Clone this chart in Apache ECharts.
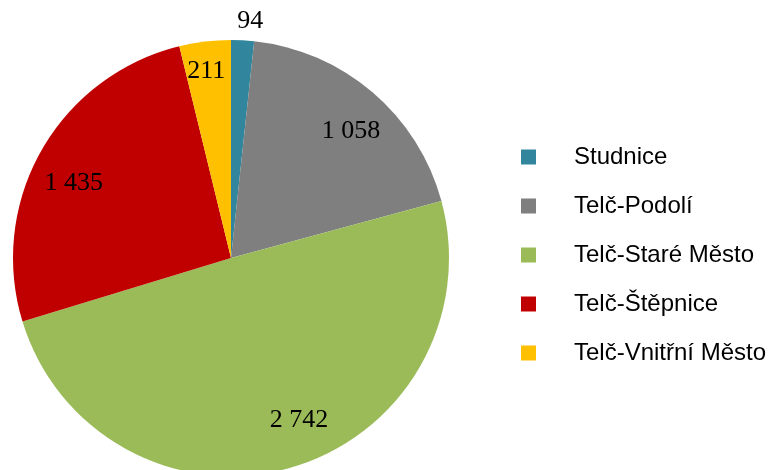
<!DOCTYPE html>
<html>
<head>
<meta charset="utf-8">
<script src="https://cdn.jsdelivr.net/npm/echarts@6/dist/echarts.min.js"></script>
<style>
  html, body { margin: 0; padding: 0; background: #fff; }
  #chart { width: 776px; height: 470px; }
</style>
</head>
<body>
<div id="chart"></div>
<script>
  // data
  var names = ['Studnice', 'Telč-Podolí', 'Telč-Staré Město', 'Telč-Štěpnice', 'Telč-Vnitřní Město'];
  var values = [94, 1058, 2742, 1435, 211];
  var colors = ['#31859C', '#7F7F7F', '#9BBB59', '#C00000', '#FFC000'];

  function fmt(v) {
    return String(v).replace(/\B(?=(\d{3})+(?!\d))/g, ' ');
  }

  var pieData = names.map(function (n, i) {
    return { name: n, value: values[i], itemStyle: { color: colors[i] } };
  });

  // nudge labels to where the original puts them
  var labelOffsets = [[10, -63], [7, 6], [20, -5], [-6, 11], [-4, -14]];
  var labelData = names.map(function (n, i) {
    return { name: n, value: values[i], label: { offset: labelOffsets[i] } };
  });

  var chart = echarts.init(document.getElementById('chart'));
  chart.setOption({
    animation: false,
    legend: {
      orient: 'vertical',
      left: 516,
      top: 140,
      itemWidth: 15,
      itemHeight: 15,
      itemGap: 25,
      icon: 'rect',
      data: names,
      textStyle: {
        fontFamily: 'Liberation Sans',
        fontSize: 24,
        color: '#000',
        padding: [0, 0, 0, 33]
      }
    },
    series: [{
      type: 'pie',
      center: [231, 258],
      radius: [0, 218],
      startAngle: 90,
      clockwise: true,
      label: { show: false },
      labelLine: { show: false },
      emphasis: { disabled: true },
      data: pieData
    }, {
      // transparent ring used only to place the value labels
      type: 'pie',
      center: [231, 258],
      radius: [0, 342],
      startAngle: 90,
      clockwise: true,
      silent: true,
      legendHoverLink: false,
      itemStyle: { color: 'rgba(0,0,0,0)' },
      label: {
        show: true,
        position: 'inside',
        fontFamily: 'Liberation Serif',
        fontSize: 26,
        color: '#000',
        formatter: function (p) { return fmt(p.value); }
      },
      labelLine: { show: false },
      emphasis: { disabled: true },
      data: labelData
    }]
  });
</script>
</body>
</html>
